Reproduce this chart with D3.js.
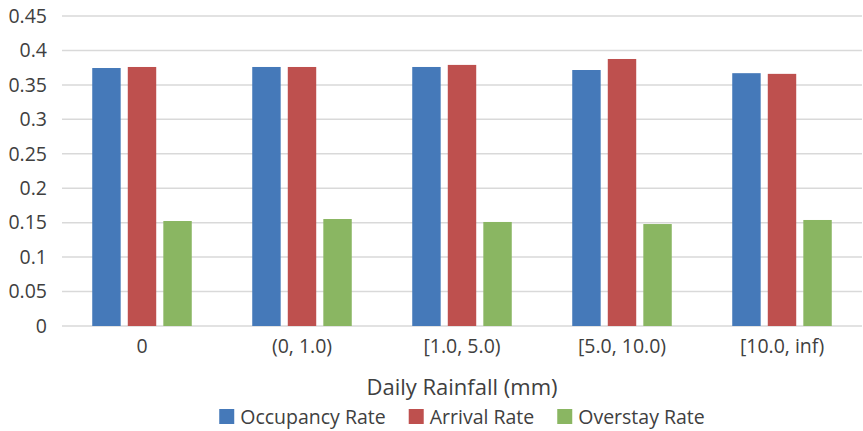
<!DOCTYPE html>
<html>
<head>
<meta charset="utf-8">
<script src="https://cdn.jsdelivr.net/npm/d3@7/dist/d3.min.js"></script>
<style>
  html, body { margin: 0; padding: 0; background: #ffffff; }
  svg { display: block; }
  text { font-family: "Open Sans", "Noto Sans", sans-serif; fill: #404040; }
</style>
</head>
<body>
<svg id="chart" width="863" height="431"></svg>
<script>
// Rainfall bins along the x axis
const categories = ["0", "(0, 1.0)", "[1.0, 5.0)", "[5.0, 10.0)", "[10.0, inf)"];
const seriesNames = ["Occupancy Rate", "Arrival Rate", "Overstay Rate"];
const seriesColors = ["#4579B9", "#BE504E", "#8AB662"];

// Rates per rainfall bin
const occupancyRate = [0.3745, 0.376, 0.376, 0.3716, 0.367];
const arrivalRate   = [0.376, 0.376, 0.379, 0.3876, 0.366];
const overstayRate  = [0.1524, 0.1553, 0.151, 0.148, 0.1539];

const yTicks = [0, 0.05, 0.1, 0.15, 0.2, 0.25, 0.3, 0.35, 0.4, 0.45];
const yTickLabels = ["0", "0.05", "0.1", "0.15", "0.2", "0.25", "0.3", "0.35", "0.4", "0.45"];
const xTitle = "Daily Rainfall (mm)";

const seriesValues = [occupancyRate, arrivalRate, overstayRate];

const svg = d3.select("#chart");
const margin = { left: 62, right: 1, top: 16, bottom: 105 };
const W = 863, H = 431;
const labelSize = 19.5;

const x0 = d3.scaleBand()
  .domain(categories)
  .range([margin.left, W - margin.right])
  .paddingInner(0)
  .paddingOuter(0);

const x1 = d3.scaleBand()
  .domain(seriesNames)
  .range([x0.bandwidth() * 0.189, x0.bandwidth() * 0.811])
  .paddingInner(0.2)
  .paddingOuter(0);

const y = d3.scaleLinear()
  .domain([0, 0.45])
  .range([H - margin.bottom, margin.top]);

// Horizontal gridlines
svg.append("g")
  .selectAll("line")
  .data(yTicks)
  .join("line")
  .attr("x1", margin.left)
  .attr("x2", W - margin.right)
  .attr("y1", d => y(d))
  .attr("y2", d => y(d))
  .attr("stroke", "#d9d9d9")
  .attr("stroke-width", 1.5);

// Y axis labels
const yAxis = d3.axisLeft(y)
  .tickValues(yTicks)
  .tickFormat((d, i) => yTickLabels[i])
  .tickSize(0)
  .tickPadding(15);
const yg = svg.append("g")
  .attr("transform", `translate(${margin.left},0)`)
  .call(yAxis);
yg.select(".domain").remove();
yg.selectAll("text")
  .attr("font-family", "'Open Sans', sans-serif")
  .attr("font-size", labelSize)
  .attr("fill", "#404040");

// Bars
const groups = svg.append("g")
  .selectAll("g")
  .data(categories)
  .join("g")
  .attr("transform", c => `translate(${x0(c)},0)`);

groups.selectAll("rect")
  .data((c, ci) => seriesNames.map((s, si) => ({ s, v: seriesValues[si][ci], color: seriesColors[si] })))
  .join("rect")
  .attr("x", d => x1(d.s))
  .attr("width", x1.bandwidth())
  .attr("y", d => y(d.v))
  .attr("height", d => y(0) - y(d.v))
  .attr("fill", d => d.color);

// Category labels
const xAxis = d3.axisBottom(x0).tickSize(0).tickPadding(13);
const xg = svg.append("g")
  .attr("transform", `translate(0,${y(0)})`)
  .call(xAxis);
xg.select(".domain").remove();
xg.selectAll("text")
  .attr("font-family", "'Open Sans', sans-serif")
  .attr("font-size", labelSize)
  .attr("fill", "#404040");

// Axis title
svg.append("text")
  .attr("x", (margin.left + W - margin.right) / 2)
  .attr("y", 395)
  .attr("text-anchor", "middle")
  .attr("font-size", 22)
  .text(xTitle);

// Legend
const legend = svg.append("g");
const items = legend.selectAll("g")
  .data(seriesNames)
  .join("g");
items.append("rect")
  .attr("width", 15)
  .attr("height", 15)
  .attr("y", 409)
  .attr("fill", (d, i) => seriesColors[i]);
items.append("text")
  .attr("x", 21)
  .attr("y", 424)
  .attr("font-size", labelSize)
  .text(d => d);

let xpos = 0;
const gap = 23;
items.each(function () {
  const g = d3.select(this);
  const w = 21 + g.select("text").node().getComputedTextLength();
  g.attr("transform", `translate(${xpos},0)`);
  xpos += w + gap;
});
const total = xpos - gap;
const cx = (margin.left + W - margin.right) / 2;
legend.attr("transform", `translate(${cx - total / 2},0)`);
</script>
</body>
</html>
